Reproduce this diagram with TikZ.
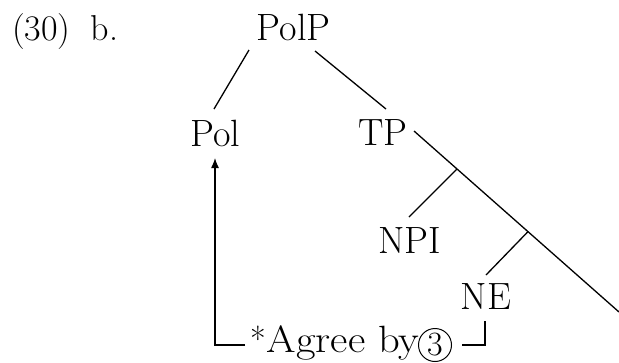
\documentclass[tikz,border=0pt]{standalone}
\usepackage{graphicx}
\usetikzlibrary{arrows.meta,calc}
\begin{document}
\begin{tikzpicture}[x=1pt,y=-1pt,
  lbl/.style={inner sep=0pt, anchor=base, font=\fontsize{38}{42}\selectfont},
  edge/.style={line width=1.3pt},
]
\useasboundingbox (0,0) rectangle (619,362);
% labels
\node[lbl, anchor=base west, font=\fontsize{36}{40}\selectfont] (ex) at (12,40) {(30)\hspace{20pt}b.};
\node[lbl] (polp) at (293.5,40) {PolP};
\node[lbl] (pol) at (215.5,146) {Pol};
\node[lbl] (tp) at (383,145) {TP};
\node[lbl] (npi) at (409.5,253) {NPI};
\node[lbl] (ne) at (486,309) {NE};
\node[lbl, anchor=base west] (agree) at (250,352) {\raisebox{1pt}{\fontsize{34}{34}\selectfont *}\hspace{1pt}\scalebox{1.12}[1]{Agree by}};
\node[circle, draw, line width=1pt, inner sep=0pt, minimum size=33pt, font=\fontsize{34}{34}\selectfont] (three) at (435,345) {3};
% end points
\coordinate (polp-l) at (249,50);
\coordinate (pol-t) at (214,109);
\coordinate (polp-r) at (315,51);
\coordinate (tp-t) at (386,109);
\coordinate (tp-r) at (414,131);
\coordinate (end) at (619,312);
\coordinate (j1) at ($(tp-r)!0.21!(end)$);
\coordinate (npi-t) at (409,217);
\coordinate (j2) at ($(tp-r)!0.556!(end)$);
\coordinate (ne-t) at (486,275);
\coordinate (ne-b) at (485,321);
\coordinate (br-r) at (485,345);
\coordinate (br-rl) at (462,345);
\coordinate (br-l) at (215,345);
\coordinate (br-lr) at (245,345);
\coordinate (pol-b) at (215,158);
% connectors
\draw[edge] (polp-l) -- (pol-t);
\draw[edge] (polp-r) -- (tp-t);
\draw[edge] (tp-r) -- (end);
\draw[edge] (j1) -- (npi-t);
\draw[edge] (j2) -- (ne-t);
\draw[edge] (ne-b) -- (br-r) -- (br-rl);
\draw[edge, -{Latex[length=10pt,width=8pt]}] (br-lr) -- (br-l) -- (pol-b);
\end{tikzpicture}
\end{document}
